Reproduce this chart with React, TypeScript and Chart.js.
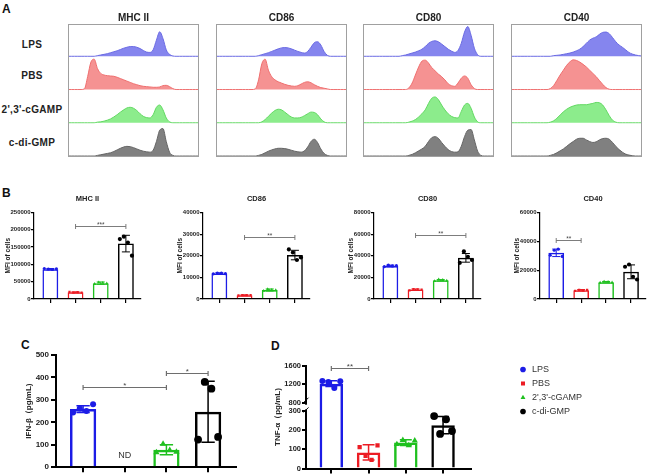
import React, { useEffect, useRef } from 'react';
import { Chart, registerables, LinearScale } from 'chart.js';

const FONT = "'Liberation Sans', Arial, Helvetica, sans-serif";

// ---------- shared groups ----------
const GROUPS = ['LPS', 'PBS', "2',3'-cGAMP", 'c-di-GMP'];
const GROUP_COLORS = ['#1c1ce6', '#ec1c24', '#1fc01f', '#000000'];
const POINT_STYLES = ['circle', 'rect', 'triangle', 'circle'];
const JITTER = [-0.24, -0.08, 0.08, 0.24];

// ---------- Panel A: flow histograms ----------
const MARKERS = ['MHC II', 'CD86', 'CD80', 'CD40'];
const HIST_BINS = Array.from({ length: 41 }, (_, i) => String(i));
const HIST_FILL = ['#8585ee', '#f59292', '#8cec8c', '#808080'];
const HIST_LINE = ['#6b6be3', '#ef6f6f', '#62d862', '#666666'];

const MHC_LPS = [0,0,0,0,0,0,0,0,0,2,4,6,8,11,14,17,21,25,28,30,30,28,24,18,13,12,20,50,76,55,20,6,1,0,0,0,0,0,0,0,0];
const MHC_PBS = [0,0,0,0,0,2,40,85,94,65,50,45,43,42,41,38,34,30,26,22,18,15,12,10,9,8,7,7,8,12,13,9,3,0,0,0,0,0,0,0,0];
const MHC_CGAMP = [0,0,0,0,0,0,0,0,0,2,3,5,8,12,18,25,33,40,46,48,45,38,28,20,16,15,25,48,55,40,15,3,0,0,0,0,0,0,0,0,0];
const MHC_CDG = [0,0,0,0,0,0,0,0,0,2,4,6,8,10,14,19,24,28,30,29,26,22,18,15,13,12,18,45,80,85,45,12,2,0,0,0,0,0,0,0,0];

const CD86_LPS = [0,0,0,0,0,0,0,0,0,0,0,0,0,2,5,8,11,15,19,23,26,27,26,23,19,15,12,10,15,28,42,45,35,15,3,0,0,0,0,0,0];
const CD86_PBS = [0,0,0,0,0,0,0,0,0,0,0,0,2,30,80,94,60,40,30,24,20,16,13,11,10,12,17,22,24,21,15,10,6,4,2,0,0,0,0,0,0];
const CD86_CGAMP = [0,0,0,0,0,0,0,0,0,0,0,0,0,0,3,10,20,30,38,42,40,33,25,18,15,15,17,22,28,33,32,25,12,3,0,0,0,0,0,0,0];
const CD86_CDG = [0,0,0,0,0,0,0,0,0,0,0,0,0,2,5,10,15,19,22,24,24,23,21,18,15,13,12,16,28,45,52,42,22,8,2,0,0,0,0,0,0];

const CD80_LPS = [0,0,0,0,0,0,0,0,0,0,0,0,2,4,7,10,13,17,22,30,40,46,48,45,38,30,22,16,12,18,40,75,92,65,25,5,0,0,0,0,0];
const CD80_PBS = [0,0,0,0,0,0,0,0,0,0,0,0,0,0,5,20,45,70,88,91,82,68,58,48,40,30,18,12,10,20,35,42,35,15,3,0,0,0,0,0,0];
const CD80_CGAMP = [0,0,0,0,0,0,0,0,0,0,0,0,0,0,2,5,10,18,28,40,60,76,80,72,55,40,28,20,16,15,35,55,60,45,18,3,0,0,0,0,0];
const CD80_CDG = [0,0,0,0,0,0,0,0,0,0,0,0,0,0,2,5,10,16,22,30,45,57,60,55,42,30,20,14,12,13,30,60,80,82,50,15,2,0,0,0,0];

const CD40_LPS = [0,0,0,0,0,0,0,0,0,0,0,0,0,2,3,4,6,8,10,13,17,22,30,40,50,56,60,68,74,75,70,58,45,35,28,20,12,7,4,2,1];
const CD40_PBS = [0,0,0,0,0,0,0,0,0,0,0,0,3,12,28,45,60,75,86,92,90,85,78,70,60,50,40,28,16,6,1,0,0,0,0,0,0,0,0,0,0];
const CD40_CGAMP = [0,0,0,0,0,0,0,0,0,0,0,0,2,6,14,24,34,42,48,52,55,56,56,56,58,60,63,62,55,40,22,8,2,0,0,0,0,0,0,0,0];
const CD40_CDG = [0,0,0,0,0,0,0,0,0,0,0,0,2,5,10,16,22,30,38,45,52,55,55,50,45,42,44,50,54,55,52,42,30,20,12,6,3,1,0,0,0];

const HIST_DATA = [
  [MHC_LPS, MHC_PBS, MHC_CGAMP, MHC_CDG],
  [CD86_LPS, CD86_PBS, CD86_CGAMP, CD86_CDG],
  [CD80_LPS, CD80_PBS, CD80_CGAMP, CD80_CDG],
  [CD40_LPS, CD40_PBS, CD40_CGAMP, CD40_CDG],
];

// ---------- Panel B: MFI bars ----------
const MHC_MEANS = [86000, 19000, 45500, 160000];
const MHC_SDS = [2000, 1500, 3500, 24000];
const MHC_DOTS = [[88000, 86500, 85000, 87000], [20000, 18000, 19500, 18500], [43000, 48000, 46500, 44500], [173000, 180000, 163000, 125000]];

const CD86_MEANS = [11800, 1700, 4100, 20300];
const CD86_SDS = [300, 200, 500, 2200];
const CD86_DOTS = [[11600, 12000, 11900, 11700], [1600, 1800, 1700, 1700], [3700, 4500, 4200, 4000], [22900, 21500, 18000, 19200]];

const CD80_MEANS = [30500, 8600, 17200, 38000];
const CD80_SDS = [800, 600, 700, 4000];
const CD80_DOTS = [[29800, 31200, 30500, 30800], [8000, 9000, 8800, 8500], [16500, 18000, 17500, 16800], [33400, 44000, 39000, 36000]];

const CD40_MEANS = [32000, 6000, 11600, 18800];
const CD40_SDS = [2600, 500, 500, 4800];
const CD40_DOTS = [[30300, 33800, 34500, 29500], [5500, 6200, 6000, 6300], [11200, 12000, 11800, 11400], [22300, 23900, 15400, 13500]];

// ---------- Panel C: IFN-beta ----------
const IFN_MEANS = [259, null, 78, 247];
const IFN_SDS = [15, null, 22, 136];
const IFN_DOTS = [[244, 262, 251, 280], [], [66, 104, 76, 68], [123, 380, 350, 135]];
const IFN_TICKS_MAX = 500;
const ND_LABEL = { index: 1, value: 50, text: 'ND' };

// ---------- Panel D: TNF-alpha (broken axis) ----------
const TNF_MEANS = [1215, 84, 135, 226];
const TNF_SDS = [60, 40, 15, 45];
const TNF_DOTS = [[1270, 1250, 1120, 1265], [111, 66, 45, 121], [126, 148, 120, 145], [273, 180, 256, 195]];
const TNF_TICKS = [0, 100, 200, 300, 800, 1200, 1600];
const TNF_BREAK_LOW = 300;
const TNF_BREAK_HIGH = 800;
const TNF_LOW_FRAC = 0.559;
const TNF_HIGH_FRAC = 0.634;

class BrokenLinearScale extends LinearScale {
  static id = 'brokenLinear';
  static defaults = {};
  buildTicks() {
    return TNF_TICKS.map((v) => ({ value: v }));
  }
  valueToDecimal(v: number) {
    const max = (this as any).max;
    if (v <= TNF_BREAK_LOW) return (v / TNF_BREAK_LOW) * TNF_LOW_FRAC;
    if (v <= TNF_BREAK_HIGH)
      return TNF_LOW_FRAC + ((v - TNF_BREAK_LOW) / (TNF_BREAK_HIGH - TNF_BREAK_LOW)) * (TNF_HIGH_FRAC - TNF_LOW_FRAC);
    return TNF_HIGH_FRAC + ((v - TNF_BREAK_HIGH) / (max - TNF_BREAK_HIGH)) * (1 - TNF_HIGH_FRAC);
  }
  getPixelForValue(v: number) {
    return (this as any).getPixelForDecimal(this.valueToDecimal(v));
  }
  getValueForPixel(p: number) {
    const d = (this as any).getDecimalForPixel(p);
    const max = (this as any).max;
    if (d <= TNF_LOW_FRAC) return (d / TNF_LOW_FRAC) * TNF_BREAK_LOW;
    if (d <= TNF_HIGH_FRAC)
      return TNF_BREAK_LOW + ((d - TNF_LOW_FRAC) / (TNF_HIGH_FRAC - TNF_LOW_FRAC)) * (TNF_BREAK_HIGH - TNF_BREAK_LOW);
    return TNF_BREAK_HIGH + ((d - TNF_HIGH_FRAC) / (1 - TNF_HIGH_FRAC)) * (max - TNF_BREAK_HIGH);
  }
}

Chart.register(...registerables, BrokenLinearScale as any);
Chart.defaults.font.family = FONT;

// ---------- plugins ----------
const framePlugin = {
  id: 'frame',
  afterDatasetsDraw(chart: any) {
    const { ctx, chartArea: a } = chart;
    ctx.save();
    ctx.strokeStyle = '#a0a0a0';
    ctx.lineWidth = 1;
    ctx.strokeRect(a.left + 0.5, a.top + 0.5, a.right - a.left - 1, a.bottom - a.top - 1);
    ctx.restore();
  },
};

function errorPlugin(s: any) {
  return {
    id: 'errbars',
    afterDatasetsDraw(chart: any) {
      const { ctx } = chart;
      const xs = chart.scales.x;
      const ys = chart.scales.y;
      const cap = (xs.getPixelForValue(1) - xs.getPixelForValue(0)) * 0.16;
      ctx.save();
      ctx.lineWidth = s.errLW;
      s.means.forEach((m: number | null, i: number) => {
        if (m == null) return;
        const sd = s.sds[i];
        const x = xs.getPixelForValue(i);
        const yt = ys.getPixelForValue(m + sd);
        const yb = ys.getPixelForValue(Math.max(0, m - sd));
        ctx.strokeStyle = GROUP_COLORS[i];
        ctx.beginPath();
        ctx.moveTo(x, yt);
        ctx.lineTo(x, yb);
        ctx.moveTo(x - cap, yt);
        ctx.lineTo(x + cap, yt);
        ctx.moveTo(x - cap, yb);
        ctx.lineTo(x + cap, yb);
        ctx.stroke();
      });
      ctx.restore();
    },
  };
}

function bracketPlugin(s: any) {
  return {
    id: 'brackets',
    afterDatasetsDraw(chart: any) {
      const { ctx } = chart;
      const xs = chart.scales.x;
      const ys = chart.scales.y;
      ctx.save();
      s.brackets.forEach((b: any) => {
        const x0 = xs.getPixelForValue(b.from);
        const x1 = xs.getPixelForValue(b.to);
        const yy = Math.round(ys.getPixelForValue(b.y)) + 0.5;
        ctx.strokeStyle = '#6e6e6e';
        ctx.lineWidth = s.bracketLW;
        ctx.beginPath();
        ctx.moveTo(x0, yy);
        ctx.lineTo(x1, yy);
        ctx.moveTo(x0, yy - 2.5);
        ctx.lineTo(x0, yy + 2.5);
        ctx.moveTo(x1, yy - 2.5);
        ctx.lineTo(x1, yy + 2.5);
        ctx.stroke();
        ctx.fillStyle = '#444';
        ctx.font = `${s.bracketFont}px ${FONT}`;
        ctx.textAlign = 'center';
        ctx.textBaseline = 'alphabetic';
        ctx.fillText(b.label, (x0 + x1) / 2, yy + 0.5);
      });
      ctx.restore();
    },
  };
}

const ndPlugin = {
  id: 'ndlabel',
  afterDatasetsDraw(chart: any) {
    const { ctx } = chart;
    const x = chart.scales.x.getPixelForValue(ND_LABEL.index);
    const y = chart.scales.y.getPixelForValue(ND_LABEL.value);
    ctx.save();
    ctx.fillStyle = '#333';
    ctx.font = `9px ${FONT}`;
    ctx.textAlign = 'center';
    ctx.textBaseline = 'middle';
    ctx.fillText(ND_LABEL.text, x, y);
    ctx.restore();
  },
};

const breakPlugin = {
  id: 'axisbreak',
  afterDraw(chart: any) {
    const { ctx } = chart;
    const ys = chart.scales.y;
    const ax = chart.chartArea.left;
    const pLow = ys.getPixelForValue(TNF_BREAK_LOW);
    const pHigh = ys.getPixelForValue(TNF_BREAK_HIGH);
    ctx.save();
    ctx.fillStyle = '#fff';
    ctx.fillRect(ax - 2, pHigh + 1.5, 4, pLow - pHigh - 3);
    ctx.strokeStyle = '#000';
    ctx.lineWidth = 1;
    [pHigh - 3, pLow - 1].forEach((c) => {
      ctx.beginPath();
      ctx.moveTo(ax - 2.5, c + 2.5);
      ctx.lineTo(ax + 2.5, c - 2.5);
      ctx.stroke();
    });
    ctx.restore();
  },
};

// ---------- configs ----------
function histConfig(col: number) {
  const series = HIST_DATA[col];
  const scales: any = { x: { type: 'category', display: false, offset: false } };
  series.forEach((_, r) => {
    scales['r' + r] = {
      type: 'linear',
      position: 'left',
      stack: 'rows',
      stackWeight: 1,
      weight: 3 - r,
      min: -3,
      max: 100,
      display: true,
      grid: { display: false, drawTicks: false },
      ticks: { display: false },
      border: { display: false },
      afterFit: (s: any) => { s.width = 0; },
    };
  });
  return {
    type: 'line',
    data: {
      labels: HIST_BINS,
      datasets: series.map((vals, r) => ({
        data: vals,
        yAxisID: 'r' + r,
        xAxisID: 'x',
        borderColor: HIST_LINE[r],
        backgroundColor: HIST_FILL[r],
        fill: 'origin',
        borderWidth: 1,
        pointRadius: 0,
        tension: 0.35,
        cubicInterpolationMode: 'monotone',
      })),
    },
    options: {
      animation: false,
      responsive: false,
      maintainAspectRatio: false,
      layout: { padding: 0 },
      plugins: {
        legend: { display: false },
        tooltip: { enabled: false },
        title: {
          display: true,
          text: MARKERS[col],
          color: '#222',
          font: { size: 10, weight: 'bold' },
          padding: { top: 6, bottom: 0 },
        },
      },
      scales,
    },
    plugins: [framePlugin],
  };
}

function barConfig(s: any) {
  const datasets: any[] = [
    {
      type: 'bar',
      data: s.means.map((m: any, i: number) => ({ x: i, y: m })),
      backgroundColor: 'rgba(255,255,255,0)',
      borderColor: GROUP_COLORS,
      borderWidth: s.barLW,
      barPercentage: 0.63,
      categoryPercentage: 1,
      order: 10,
    },
  ];
  s.dots.forEach((arr: number[], g: number) => {
    datasets.push({
      type: 'scatter',
      label: GROUPS[g],
      data: arr.map((v, k) => ({ x: g + JITTER[k], y: v })),
      pointStyle: POINT_STYLES[g],
      pointRadius: g === 3 ? s.pointR * 1.3 : g === 2 ? s.pointR * 1.2 : s.pointR,
      backgroundColor: GROUP_COLORS[g],
      borderColor: GROUP_COLORS[g],
      borderWidth: 0,
      order: 1,
    });
  });
  const scales: any = {
    x: {
      type: 'linear',
      offset: false,
      min: s.xMin,
      max: s.xMax,
      afterBuildTicks: (sc: any) => { sc.ticks = [0, 1, 2, 3].map((v) => ({ value: v })); },
      ticks: { display: false },
      grid: { offset: false, drawOnChartArea: false, drawTicks: true, tickLength: s.xTickLen, color: '#000', lineWidth: s.axisLW },
      border: { display: true, color: '#000', width: s.axisLW },
      afterFit: (sc: any) => { sc.height = s.xTickLen; },
    },
    y: {
      type: s.broken ? 'brokenLinear' : 'linear',
      min: 0,
      max: s.yMax,
      ticks: {
        stepSize: s.yStep,
        autoSkip: false,
        callback: (v: any) => String(v),
        font: { size: s.tickFont, weight: 'bold' },
        color: '#222',
        padding: s.tickPad,
      },
      grid: { drawOnChartArea: false, drawTicks: true, tickLength: s.tickLen, color: '#000', lineWidth: s.axisLW },
      border: { display: true, color: '#000', width: s.axisLW },
      title: {
        display: true,
        text: s.yTitle,
        color: '#222',
        font: { size: s.yTitleFont, weight: 'bold' },
        padding: { top: s.yTitlePad, bottom: 0 },
      },
      afterFit: (sc: any) => { sc.width = s.axisW; },
    },
  };
  if (s.legend) {
    scales.spacer = {
      type: 'linear',
      position: 'right',
      display: true,
      grid: { display: false, drawTicks: false },
      ticks: { display: false },
      border: { display: false },
      afterFit: (sc: any) => { sc.width = s.spacer; },
    };
  }
  const plugins: any[] = [errorPlugin(s), bracketPlugin(s)];
  if (s.nd) plugins.push(ndPlugin);
  if (s.broken) plugins.push(breakPlugin);
  return {
    type: 'bar',
    data: { datasets },
    options: {
      animation: false,
      responsive: false,
      maintainAspectRatio: false,
      layout: { padding: { top: s.padTop, right: s.padRight, left: 0, bottom: 0 } },
      plugins: {
        tooltip: { enabled: false },
        legend: s.legend
          ? {
              display: true,
              position: 'right',
              align: 'start',
              maxWidth: s.legendWidth,
              labels: {
                usePointStyle: true,
                boxWidth: 9,
                boxHeight: 4,
                padding: 5,
                color: '#333',
                font: { size: 9 },
                filter: (item: any, data: any) => data.datasets[item.datasetIndex].type === 'scatter',
              },
            }
          : { display: false },
        title: s.title
          ? {
              display: true,
              text: s.title,
              fullSize: false,
              color: '#222',
              font: { size: 7.5, weight: 'bold' },
              padding: { top: 4.5, bottom: 9 },
            }
          : { display: false },
      },
      scales,
    },
    plugins,
  };
}

const B_COMMON = {
  xMin: -0.65, xMax: 3.6, xTickLen: 4, axisLW: 1.2, barLW: 1.5, pointR: 1.6, errLW: 1,
  tickFont: 6, tickLen: 3, tickPad: 0.5, yTitleFont: 6.5, axisW: 30, padTop: 0,
  bracketFont: 6.5, bracketLW: 0.9, yTitle: 'MFI of cells',
};

const B_SPECS = [
  { ...B_COMMON, title: 'MHC II', axisX: 34, axisEnd: 143, yMax: 250000, yStep: 50000, yTitlePad: 0.1,
    means: MHC_MEANS, sds: MHC_SDS, dots: MHC_DOTS, brackets: [{ from: 1, to: 3, y: 212000, label: '***' }] },
  { ...B_COMMON, title: 'CD86', axisX: 203, axisEnd: 312, yMax: 40000, yStep: 10000, yTitlePad: 3.1,
    means: CD86_MEANS, sds: CD86_SDS, dots: CD86_DOTS, brackets: [{ from: 1, to: 3, y: 28500, label: '**' }] },
  { ...B_COMMON, title: 'CD80', axisX: 374, axisEnd: 483, yMax: 80000, yStep: 20000, yTitlePad: 3.1,
    means: CD80_MEANS, sds: CD80_SDS, dots: CD80_DOTS, brackets: [{ from: 1, to: 3, y: 59000, label: '**' }] },
  { ...B_COMMON, title: 'CD40', axisX: 540, axisEnd: 649, yMax: 60000, yStep: 20000, yTitlePad: 3.1,
    means: CD40_MEANS, sds: CD40_SDS, dots: CD40_DOTS, brackets: [{ from: 0, to: 1, y: 41000, label: '**' }] },
];

const C_SPEC = {
  xMin: -0.65, xMax: 3.67, xTickLen: 5, axisLW: 2, barLW: 2.5, pointR: 3, errLW: 1.5,
  tickFont: 8, tickLen: 5, tickPad: 2, yTitleFont: 8, axisW: 36, padTop: 10, padRight: 3,
  bracketFont: 8, bracketLW: 1.2, yTitle: 'IFN-β（pg/mL)', yTitlePad: 4.2,
  yMax: IFN_TICKS_MAX, yStep: 100, means: IFN_MEANS, sds: IFN_SDS, dots: IFN_DOTS, nd: true,
  brackets: [{ from: 0, to: 2, y: 358, label: '*' }, { from: 2, to: 3, y: 422, label: '*' }],
};

const D_SPEC = {
  xMin: -0.68, xMax: 3.75, xTickLen: 5, axisLW: 2, barLW: 2.5, pointR: 3, errLW: 1.5,
  tickFont: 7.5, tickLen: 4, tickPad: 1, yTitleFont: 8, axisW: 40, padTop: 0, padRight: 16.5,
  bracketFont: 8, bracketLW: 1.2, yTitle: 'TNF-α（pg/mL)', yTitlePad: 7.2,
  yMax: 1600, yStep: 100, means: TNF_MEANS, sds: TNF_SDS, dots: TNF_DOTS, broken: true,
  legend: true, legendWidth: 72, spacer: 42.5,
  brackets: [{ from: 0, to: 1, y: 1552, label: '**' }],
};

// ---------- components ----------
function ChartBox({ x, y, w, h, build }: any) {
  const ref = useRef<HTMLCanvasElement>(null);
  useEffect(() => {
    const chart = new Chart(ref.current as any, build());
    return () => chart.destroy();
  }, []);
  return (
    <canvas
      ref={ref}
      width={w}
      height={h}
      style={{ position: 'absolute', left: x, top: y, width: w, height: h }}
    />
  );
}

const COL_X = [68, 216, 363, 511];
const ROW_LABEL_Y = [45, 76, 110, 143];

const letterStyle = (left: number, top: number): React.CSSProperties => ({
  position: 'absolute', left, top, font: `bold 12px ${FONT}`, lineHeight: '12px', color: '#111',
});

export default function App() {
  return (
    <div style={{ position: 'absolute', left: 0, top: 0, width: 650, height: 474, background: '#fff', overflow: 'hidden', fontFamily: FONT }}>
      <div style={letterStyle(2, 3)}>A</div>
      <div style={letterStyle(2, 187)}>B</div>
      <div style={letterStyle(21, 338.5)}>C</div>
      <div style={letterStyle(271, 340)}>D</div>

      {GROUPS.map((g, i) => (
        <div
          key={g}
          style={{
            position: 'absolute', left: 0, width: 64, top: ROW_LABEL_Y[i] - 6, textAlign: 'center',
            font: `bold 10px ${FONT}`, lineHeight: '12px', letterSpacing: '0.3px', color: '#222', whiteSpace: 'nowrap',
          }}
        >
          {g}
        </div>
      ))}

      {MARKERS.map((m, c) => (
        <ChartBox key={m} x={COL_X[c]} y={6} w={131} h={151} build={() => histConfig(c)} />
      ))}

      {B_SPECS.map((s) => {
        const left = s.axisX - s.axisW;
        const padRight = s.axisEnd >= 648 ? 1 : 2;
        const w = s.axisEnd - left + padRight;
        return (
          <ChartBox key={s.title} x={left} y={190} w={w} h={113} build={() => barConfig({ ...s, padRight })} />
        );
      })}

      <ChartBox x={20} y={345} w={220} h={129} build={() => barConfig(C_SPEC)} />
      <ChartBox x={266} y={360} w={336} h={114} build={() => barConfig(D_SPEC)} />
    </div>
  );
}
